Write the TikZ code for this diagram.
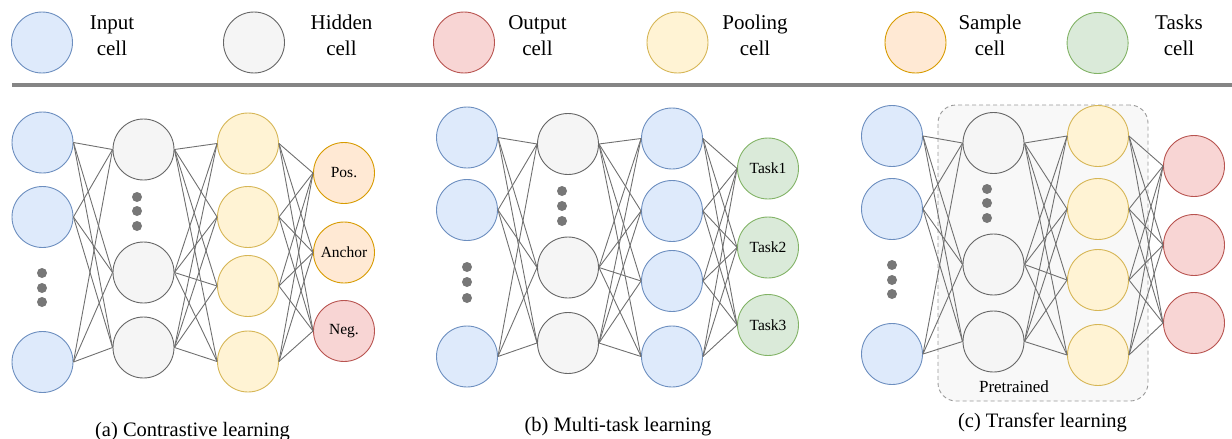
\documentclass[tikz,border=0pt]{standalone}
\usepackage{fontspec}
\setmainfont{Liberation Serif}
\definecolor{inF}{HTML}{DEEAFB}\definecolor{inD}{HTML}{6C8EBF}
\definecolor{hiF}{HTML}{F5F5F5}\definecolor{hiD}{HTML}{666666}
\definecolor{ouF}{HTML}{F8D5D4}\definecolor{ouD}{HTML}{B85450}
\definecolor{poF}{HTML}{FFF3D4}\definecolor{poD}{HTML}{D6B656}
\definecolor{saF}{HTML}{FFE9D4}\definecolor{saD}{HTML}{D79B00}
\definecolor{taF}{HTML}{DAEAD9}\definecolor{taD}{HTML}{82B366}
\definecolor{edgec}{HTML}{707070}
\definecolor{dotc}{HTML}{777777}
\definecolor{sepc}{HTML}{858585}
\definecolor{boxD}{HTML}{9A9A9A}
\definecolor{boxF}{HTML}{F8F8F8}
\tikzset{
  cellbase/.style={circle, minimum size=61pt, inner sep=0pt, line width=0.9pt,
    font=\rmfamily\fontsize{15.5}{18}\selectfont},
  incell/.style={cellbase, fill=inF, draw=inD},
  hicell/.style={cellbase, fill=hiF, draw=hiD},
  oucell/.style={cellbase, fill=ouF, draw=ouD},
  pocell/.style={cellbase, fill=poF, draw=poD},
  sacell/.style={cellbase, fill=saF, draw=saD},
  tacell/.style={cellbase, fill=taF, draw=taD},
  conn/.style={draw=edgec, line width=0.9pt},
  dotnode/.style={circle, fill=dotc, minimum size=10pt, inner sep=0pt},
  legtext/.style={align=center, font=\rmfamily\fontsize{21}{25.5}\selectfont, anchor=base},
  captext/.style={font=\rmfamily\fontsize{20.5}{24}\selectfont, anchor=base},
}
\begin{document}
\begin{tikzpicture}[x=1pt,y=-1pt]
\useasboundingbox (0,0) rectangle (1232,439);

% ---------- legend ----------
\node[incell] (lgin) at (42,42.5) {};
\node[legtext] (lgint) at (112,55) {Input\\cell};
\node[hicell] (lghi) at (254,42.5) {};
\node[legtext] (lghit) at (341.5,55) {Hidden\\cell};
\node[oucell] (lgou) at (464,42.5) {};
\node[legtext] (lgout) at (537.5,55) {Output\\cell};
\node[pocell] (lgpo) at (677.5,42.5) {};
\node[legtext] (lgpot) at (755,55) {Pooling\\cell};
\node[sacell] (lgsa) at (915.5,42.5) {};
\node[legtext] (lgsat) at (990,55) {Sample\\cell};
\node[tacell] (lgta) at (1097.6,43) {};
\node[legtext] (lgtat) at (1179,55) {Tasks\\cell};

\coordinate (sepL) at (12,85.3);
\coordinate (sepR) at (1232,85.3);
\draw[line width=4pt, draw=sepc] (sepL) -- (sepR);

% ---------- (a) contrastive learning ----------
\node[incell] (ai1) at (42.5,142.5) {};
\node[incell] (ai2) at (42.5,217) {};
\node[incell] (ai3) at (42.5,362) {};
\node[hicell] (ah1) at (143.5,149.5) {};
\node[hicell] (ah2) at (143.5,272.5) {};
\node[hicell] (ah3) at (143.5,347.5) {};
\node[pocell] (ap1) at (248,143.5) {};
\node[pocell] (ap2) at (248,217) {};
\node[pocell] (ap3) at (248,286) {};
\node[pocell] (ap4) at (248,361.5) {};
\node[sacell] (ao1) at (344,173) {Pos.};
\node[sacell] (ao2) at (344,252.5) {Anchor};
\node[oucell] (ao3) at (344,331) {Neg.};
\foreach \k/\y in {1/273,2/288,3/302} \node[dotnode] (adi\k) at (42,\y) {};
\foreach \k/\y in {1/197,2/211,3/226} \node[dotnode] (adh\k) at (137,\y) {};
\foreach \i in {1,2,3} \foreach \j in {1,2,3} \draw[conn] (ai\i.east) -- (ah\j.west);
\foreach \i in {1,2,3} \foreach \j in {1,2,3,4} \draw[conn] (ah\i.east) -- (ap\j.west);
\foreach \i in {1,2,3,4} \foreach \j in {1,2,3} \draw[conn] (ap\i.east) -- (ao\j.west);
\node[captext] (capa) at (192.5,436) {(a) Contrastive learning};

% ---------- (b) multi-task learning ----------
\node[incell] (bi1) at (467,137.5) {};
\node[incell] (bi2) at (467,210) {};
\node[incell] (bi3) at (467,356.5) {};
\node[hicell] (bh1) at (568,144) {};
\node[hicell] (bh2) at (568,267.5) {};
\node[hicell] (bh3) at (568,343) {};
\node[incell] (bm1) at (672,138.5) {};
\node[incell] (bm2) at (672,211) {};
\node[incell] (bm3) at (672,281) {};
\node[incell] (bm4) at (672,356.5) {};
\node[tacell] (bt1) at (768,168.5) {Task1};
\node[tacell] (bt2) at (768,247.5) {Task2};
\node[tacell] (bt3) at (768,325) {Task3};
\foreach \k/\y in {1/267,2/282,3/298} \node[dotnode] (bdi\k) at (467,\y) {};
\foreach \k/\y in {1/191,2/206,3/221} \node[dotnode] (bdh\k) at (562,\y) {};
\foreach \i in {1,2,3} \foreach \j in {1,2,3} \draw[conn] (bi\i.east) -- (bh\j.west);
\foreach \i in {1,2,3} \foreach \j in {1,2,3,4} \draw[conn] (bh\i.east) -- (bm\j.west);
\foreach \i in {1,2,3,4} \foreach \j in {1,2,3} \draw[conn] (bm\i.east) -- (bt\j.west);
\node[captext] (capb) at (618,431) {(b) Multi-task learning};

% ---------- (c) transfer learning ----------
\node[draw=boxD, fill=boxF, line width=0.9pt, dash pattern=on 4pt off 3pt,
      rounded corners=18pt, minimum width=210pt, minimum height=296pt, inner sep=0pt]
      (ptbox) at (1043,253) {};
\node[font=\rmfamily\fontsize{17}{20}\selectfont, anchor=base] (ptlabel) at (1014,392) {Pretrained};
\node[incell] (ci1) at (892,136) {};
\node[incell] (ci2) at (892,209) {};
\node[incell] (ci3) at (892,354) {};
\node[hicell] (ch1) at (993.5,143) {};
\node[hicell] (ch2) at (993.5,264.5) {};
\node[hicell] (ch3) at (993.5,341.5) {};
\node[pocell] (cp1) at (1098,136) {};
\node[pocell] (cp2) at (1098,209) {};
\node[pocell] (cp3) at (1098,280) {};
\node[pocell] (cp4) at (1098,355) {};
\node[oucell] (co1) at (1194,166) {};
\node[oucell] (co2) at (1194,245) {};
\node[oucell] (co3) at (1194,323) {};
\foreach \k/\y in {1/265,2/280,3/294} \node[dotnode] (cdi\k) at (892,\y) {};
\foreach \k/\y in {1/189,2/203,3/218} \node[dotnode] (cdh\k) at (987,\y) {};
\foreach \i in {1,2,3} \foreach \j in {1,2,3} \draw[conn] (ci\i.east) -- (ch\j.west);
\foreach \i in {1,2,3} \foreach \j in {1,2,3,4} \draw[conn] (ch\i.east) -- (cp\j.west);
\foreach \i in {1,2,3,4} \foreach \j in {1,2,3} \draw[conn] (cp\i.east) -- (co\j.west);
\node[captext] (capc) at (1042.5,427) {(c) Transfer learning};
\end{tikzpicture}
\end{document}
